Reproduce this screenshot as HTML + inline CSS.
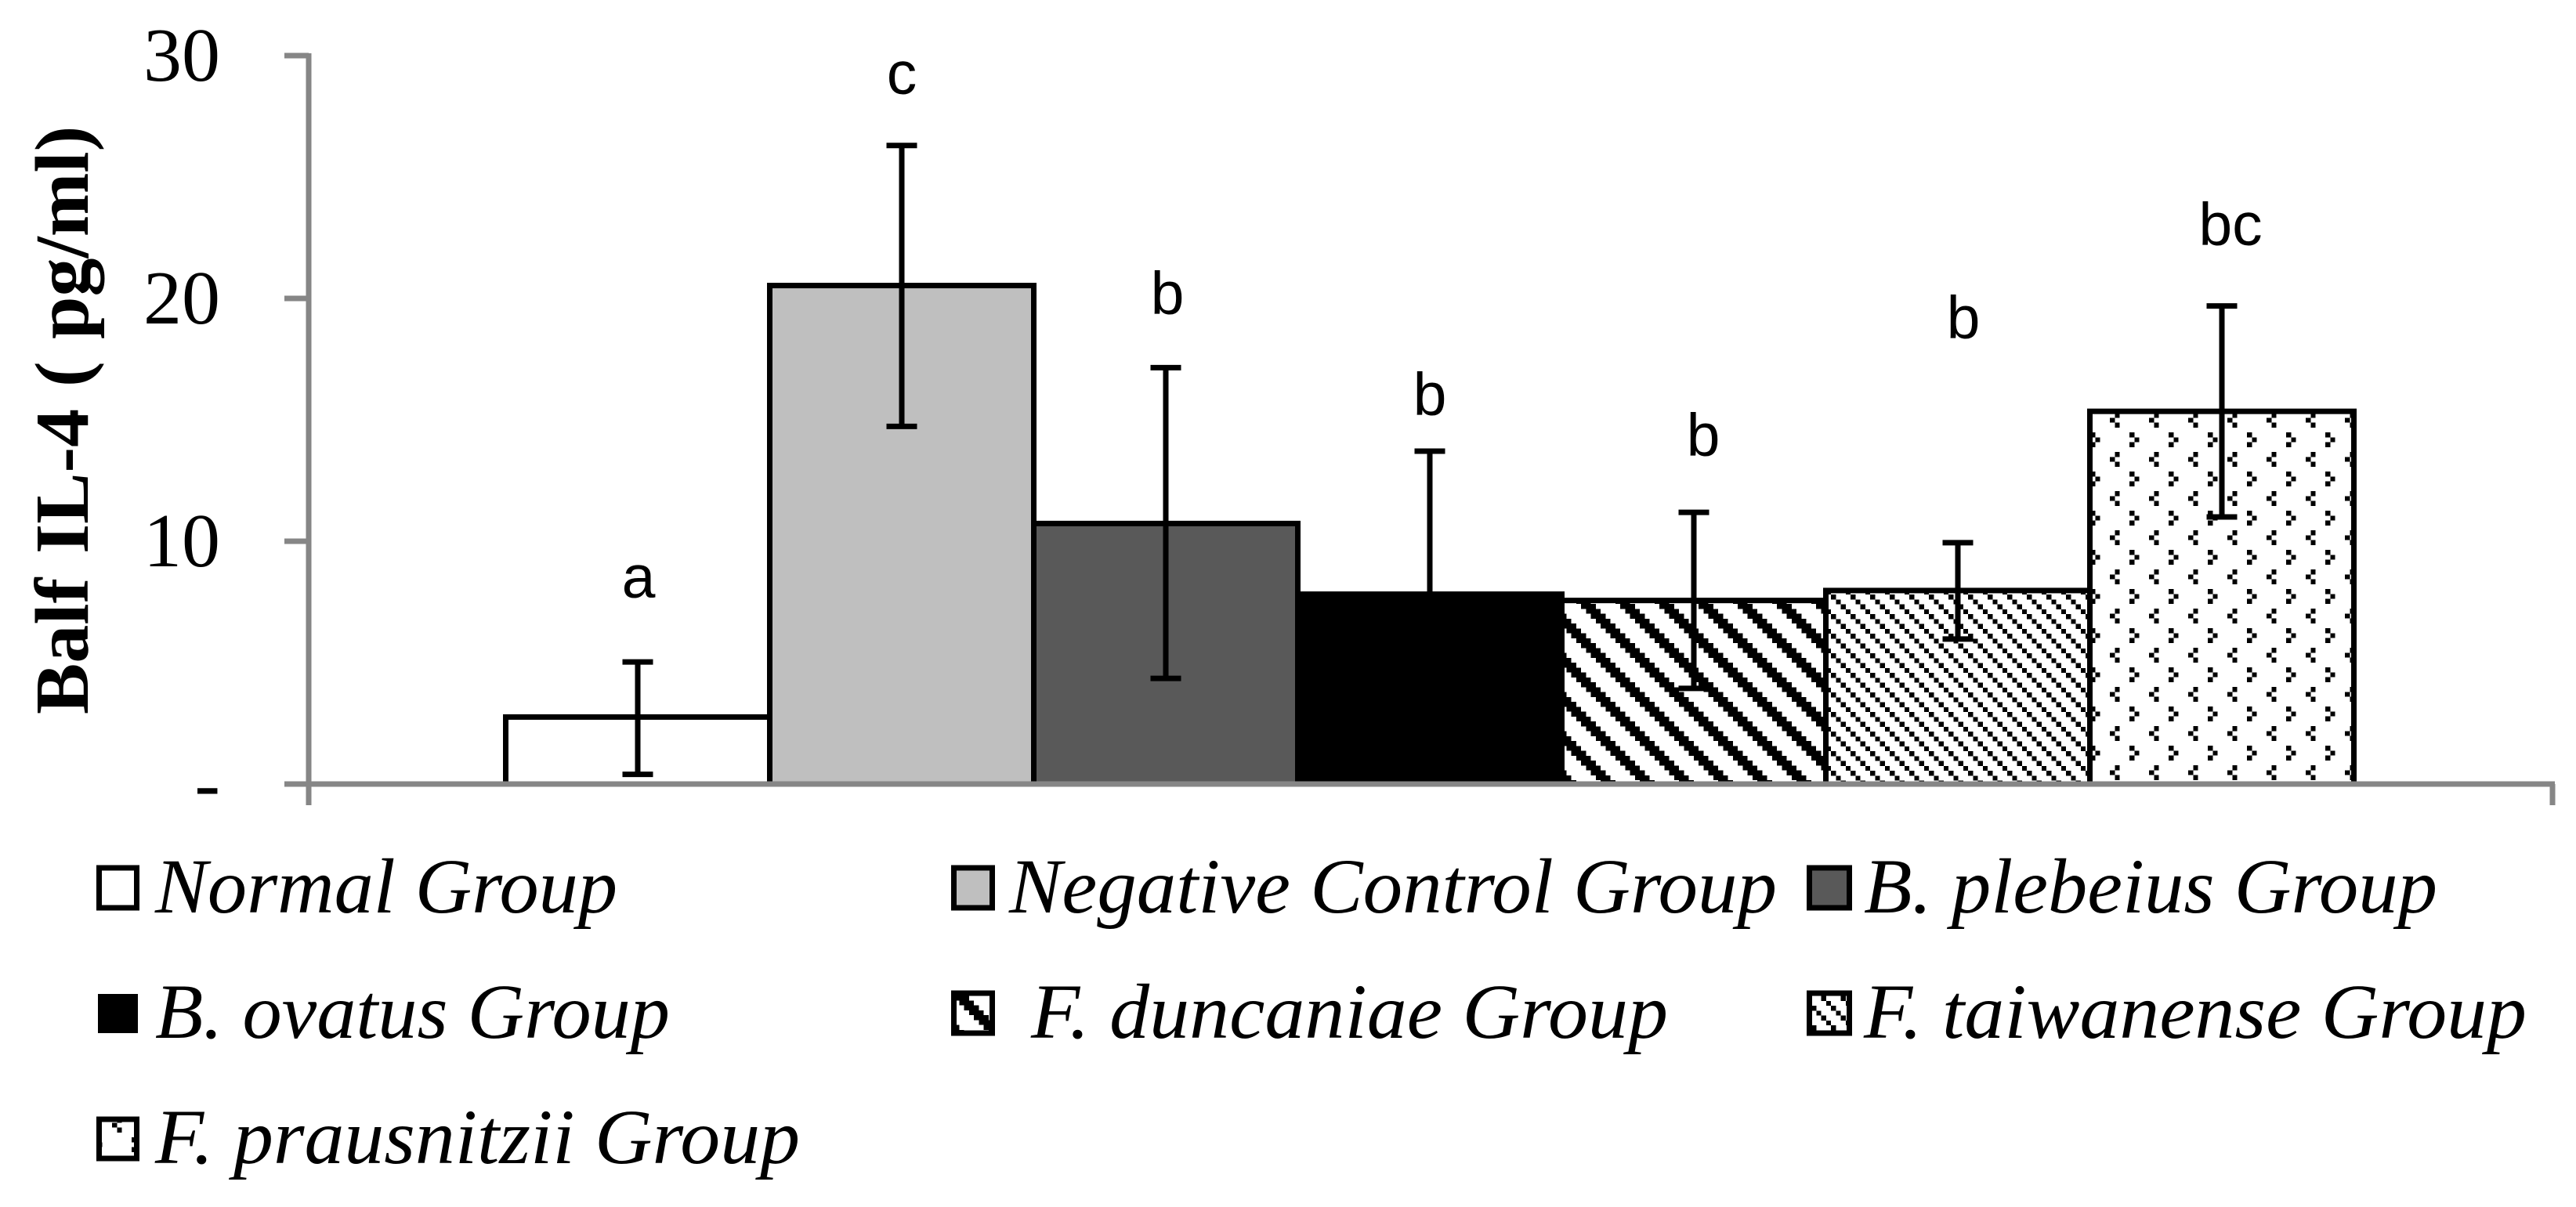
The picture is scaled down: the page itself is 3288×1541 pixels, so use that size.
<!DOCTYPE html>
<html lang="en">
<head>
<meta charset="utf-8">
<title>Balf IL-4 bar chart</title>
<style>
html,body{margin:0;padding:0;background:#fff;}
svg{display:block;}
.serif{font-family:"Liberation Serif",serif;fill:#000;}
.leg{font-family:"Liberation Serif",serif;font-style:italic;font-size:100px;fill:#000;}
.sig{font-family:"Liberation Sans",sans-serif;font-size:77px;fill:#000;text-anchor:middle;}
</style>
</head>
<body>
<svg id="chart" xmlns="http://www.w3.org/2000/svg" width="3288" height="1541" viewBox="0 0 3288 1541">
  <defs>
    <pattern id="p-wide" patternUnits="userSpaceOnUse" x="2018" y="771" width="50" height="50">
      <rect width="50" height="50" fill="#fff" shape-rendering="crispEdges"/>
      <path shape-rendering="crispEdges" fill="#000" d="M0 0h18.75v6.25H0zM6.25 6.25h18.75v6.25H6.25zM12.5 12.5h18.75v6.25H12.5zM18.75 18.75h18.75V25H18.75zM25 25h18.75v6.25H25zM31.25 31.25H50v6.25H31.25zM37.5 37.5H50v6.25H37.5zM0 37.5h6.25v6.25H0zM43.75 43.75H50V50H43.75zM0 43.75h12.5V50H0z"/>
    </pattern>
    <pattern id="p-light" patternUnits="userSpaceOnUse" x="2387" y="759" width="25" height="25">
      <rect width="25" height="25" fill="#fff" shape-rendering="crispEdges"/>
      <path shape-rendering="crispEdges" fill="#000" d="M0 0h6.25v6.25H0zM6.25 6.25h6.25v6.25H6.25zM12.5 12.5h6.25v6.25H12.5zM18.75 18.75H25V25H18.75z"/>
    </pattern>
    <pattern id="p-dots" patternUnits="userSpaceOnUse" x="2718" y="702" width="50" height="50">
      <rect width="50" height="50" fill="#fff" shape-rendering="crispEdges"/>
      <path shape-rendering="crispEdges" fill="#000" d="M0 0h6.25v6.25H0zM6.25 6.25h6.25v6.25H6.25zM0 12.5h6.25v6.25H0zM31.25 25h6.25v6.25H31.25zM25 31.25h6.25v6.25H25zM31.25 37.5h6.25v6.25H31.25z"/>
    </pattern>
  </defs>

  <rect x="0" y="0" width="3288" height="1541" fill="#fff"/>

  <g id="bars"></g>
  <g id="axes"></g>
  <g id="sig"></g>

  <text class="serif" transform="translate(112,912) rotate(-90)" font-size="98" font-weight="700"><tspan x="0">Balf</tspan> <tspan x="205">IL-4</tspan> <tspan x="418">(</tspan> <tspan x="479">pg/ml)</tspan></text>

  <g>
    <g>
      <rect x="126.5" y="1108" width="48" height="51" fill="#fff" stroke="#000" stroke-width="7"/>
      <text class="leg" x="198" y="1165" textLength="590" lengthAdjust="spacingAndGlyphs">Normal Group</text>
    </g>
    <g>
      <rect x="1217.5" y="1108" width="49" height="51" fill="#bfbfbf" stroke="#000" stroke-width="7"/>
      <text class="leg" x="1288" y="1165" textLength="980" lengthAdjust="spacingAndGlyphs">Negative Control Group</text>
    </g>
    <g>
      <rect x="2309.5" y="1108" width="51" height="51" fill="#595959" stroke="#000" stroke-width="7"/>
      <text class="leg" x="2379" y="1165" textLength="732" lengthAdjust="spacingAndGlyphs">B. plebeius Group</text>
    </g>
    <g>
      <rect x="125" y="1269" width="51" height="50" fill="#000"/>
      <text class="leg" x="198" y="1325" textLength="657" lengthAdjust="spacingAndGlyphs">B. ovatus Group</text>
    </g>
    <g>
      <rect x="1217.5" y="1268" width="49" height="51" fill="url(#p-wide)" stroke="#000" stroke-width="7"/>
      <text class="leg" x="1316" y="1325" textLength="813" lengthAdjust="spacingAndGlyphs">F. duncaniae Group</text>
    </g>
    <g>
      <rect x="2309.5" y="1268" width="51" height="51" fill="url(#p-light)" stroke="#000" stroke-width="7"/>
      <text class="leg" x="2379" y="1325" textLength="846" lengthAdjust="spacingAndGlyphs">F. taiwanense Group</text>
    </g>
    <g>
      <rect x="126.5" y="1429" width="48" height="50" fill="url(#p-dots)" stroke="#000" stroke-width="7"/>
      <text class="leg" x="198" y="1485" textLength="823" lengthAdjust="spacingAndGlyphs">F. prausnitzii Group</text>
    </g>
  </g>
</svg>

<script>
var categories = ["Normal", "Negative Control", "B. plebeius", "B. ovatus", "F. duncaniae", "F. taiwanense", "F. prausnitzii"];
var means = [2.76, 20.53, 10.73, 7.82, 7.56, 7.97, 15.35];
var upperErrors = [5.03, 26.3, 17.15, 13.71, 11.19, 9.94, 19.69];
var lowerErrors = [0.40, 14.73, 4.35, 1.93, 3.94, 5.97, 11.0];
var significance = ["a", "c", "b", "b", "b", "b", "bc"];
var sigLabelValues = [7.67, 28.42, 19.35, 15.19, 13.52, 18.35, 22.19];
var fills = ["#fff", "#bfbfbf", "#595959", "#000", "url(#p-wide)", "url(#p-light)", "url(#p-dots)"];
var tickValues = [0, 10, 20, 30];
var tickLabels = ["-", "10", "20", "30"];

var NS = "http://www.w3.org/2000/svg";
var plotBottom = 1001, pxPerUnit = 31, plotCenter = 1825, barWidth = 337;

function yScale(v) { return plotBottom - v * pxPerUnit; }
function xLeft(i) { return plotCenter + (i - categories.length / 2) * barWidth; }
function xMid(i) { return xLeft(i) + barWidth / 2; }
function sigNudge(i) {
  if (i === 0) { return 1; }
  if (i === 2) { return 2; }
  if (i === 4) { return 12; }
  if (i === 5) { return 7; }
  if (i === 6) { return 11; }
  return 0;
}
function make(tag, parent, attrs) {
  var el = document.createElementNS(NS, tag);
  for (var k in attrs) { el.setAttribute(k, attrs[k]); }
  parent.appendChild(el);
  return el;
}
function slug(s) { return s.toLowerCase().replace(/[^a-z0-9]+/g, "-"); }

var barsG = document.getElementById("bars");
categories.forEach(function (cat, i) {
  var top = yScale(means[i]);
  var bar = make("rect", barsG, { x: xLeft(i), y: top, width: barWidth, height: plotBottom - top, fill: fills[i], stroke: "#000", "stroke-width": 7 });
  
  

  var path = "M" + xMid(i) + " " + yScale(upperErrors[i]) + "V" + yScale(lowerErrors[i]) +
    "M" + (xMid(i) - 19.5) + " " + yScale(upperErrors[i]) + "h39" +
    "M" + (xMid(i) - 19.5) + " " + yScale(lowerErrors[i]) + "h39";
  var err = make("path", barsG, { d: path, fill: "none", stroke: "#000", "stroke-width": 7 });
  
  
});

var axesG = document.getElementById("axes");
var axisY = make("line", axesG, { x1: 394, x2: 394, y1: yScale(30) - 3, y2: 1028, stroke: "#868686", "stroke-width": 7 });


var axisX = make("line", axesG, { x1: 363, x2: 3261, y1: plotBottom, y2: plotBottom, stroke: "#868686", "stroke-width": 7 });


var endTick = make("line", axesG, { x1: 3258, x2: 3258, y1: plotBottom, y2: 1028, stroke: "#868686", "stroke-width": 7 });



tickValues.forEach(function (v, i) {
  var tick = make("line", axesG, { x1: 363, x2: 394, y1: yScale(v), y2: yScale(v), stroke: "#868686", "stroke-width": 7 });
  
  
  var label = make("text", axesG, { x: 281, y: yScale(v) + 32, "text-anchor": "end", "font-size": 98, "class": "serif" });
  label.textContent = tickLabels[i];
  
  
});

var sigG = document.getElementById("sig");
significance.forEach(function (s, i) {
  var t = make("text", sigG, { x: xMid(i) + sigNudge(i), y: yScale(sigLabelValues[i]), "class": "sig" });
  t.textContent = s;
  
  
});
</script>
</body>
</html>
